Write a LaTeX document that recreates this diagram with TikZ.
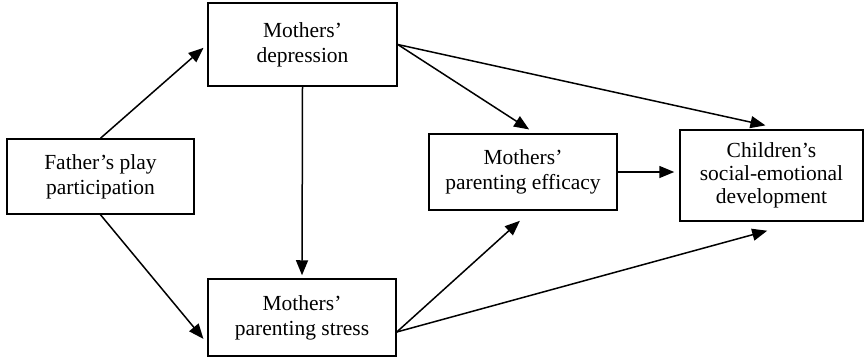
\documentclass[tikz,border=0pt]{standalone}
\usepackage{fontspec}
\setmainfont{Liberation Serif}
\usetikzlibrary{arrows.meta}
\begin{document}
\begin{tikzpicture}[x=1pt,y=-1pt,
  box/.style={draw,line width=1.5pt,rectangle,inner sep=0pt,align=center,font=\fontsize{21.5}{25}\selectfont},
  arr/.style={line width=1.5pt,-{Triangle[length=15pt,width=12pt]}}]
\useasboundingbox (0,0) rectangle (864,359);
\node[box,minimum width=187pt,minimum height=75pt] (father) at (100.5,176.5) {Father’s play\\participation};
\node[box,minimum width=189pt,minimum height=83pt] (dep) at (302.5,44.5) {Mothers’\\depression};
\node[box,minimum width=188pt,minimum height=77pt] (stress) at (302,317.5) {Mothers’\\parenting stress};
\node[box,minimum width=188pt,minimum height=76pt] (eff) at (523,172) {Mothers’\\parenting efficacy};
\node[box,minimum width=183pt,minimum height=91pt,font=\fontsize{21.5}{23}\selectfont] (child) at (771.5,175.5) {Children’s\\social-emotional\\development};
\draw[arr,shorten >=5pt] (father.north) -- (dep.west);
\draw[arr,shorten >=6pt] (father.south) -- ([yshift=-26pt]stress.west);
\draw[arr,shorten >=3pt] (dep.south) -- (stress.north);
\draw[arr,shorten >=7pt] (dep.east) -- ([xshift=12pt]eff.north);
\draw[arr,shorten >=18pt] (dep.east) -- ([xshift=11.5pt]child.north);
\draw[arr,shorten >=5pt] (eff.east) -- (child.west |- eff.east);
\draw[arr,shorten >=15pt] ([yshift=-14.5pt]stress.east) -- ([xshift=8pt]eff.south);
\draw[arr,shorten >=34pt] ([yshift=-14.5pt]stress.east) -- ([xshift=28.5pt]child.south);
\end{tikzpicture}
\end{document}
